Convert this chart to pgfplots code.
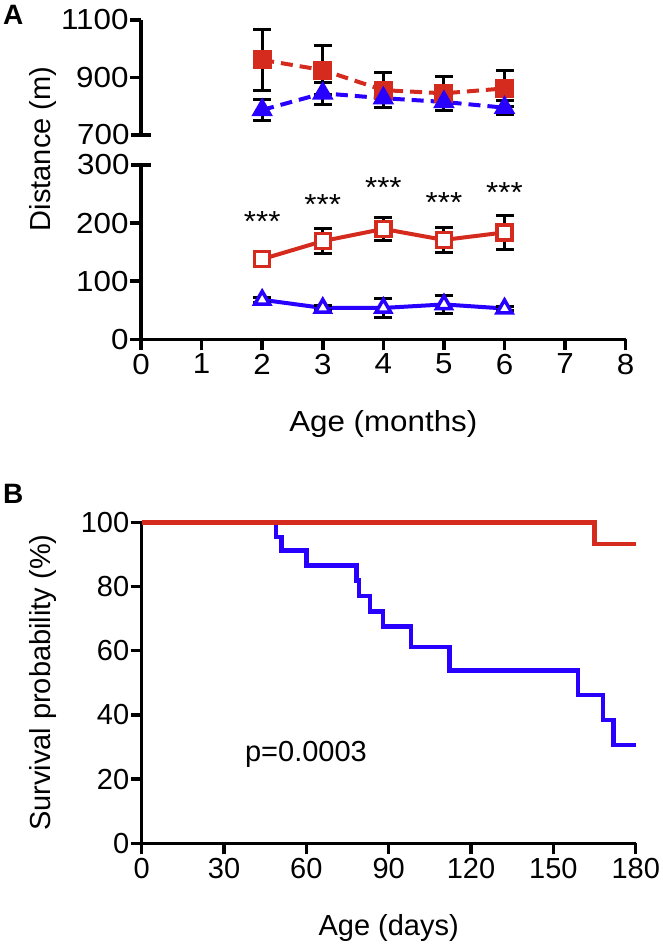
\documentclass[border=0pt]{standalone}
\usepackage{pgfplots}
\pgfplotsset{compat=1.18}
\usepackage{fontspec}
\setmainfont{Liberation Sans}
\newfontfamily\afont[FakeStretch=1.08]{Liberation Sans}
\definecolor{myred}{RGB}{213,43,30}
\definecolor{myblue}{RGB}{40,0,255}
\newcommand{\bigf}{\fontsize{29}{34}\selectfont}
\newcommand{\bigA}{\afont\fontsize{29}{34}\selectfont}
\pgfplotsset{
  gp/.style={
    scale only axis, enlargelimits=false, clip=false,
    axis line style={line width=3.5pt},
    tick style={line width=3.5pt,black},
    major tick length=11pt,
    tick align=outside,
    tick label style={font=\bigf},
    yticklabel style={xshift=2pt},
    /pgf/number format/assume math mode=true,
    /pgf/number format/set thousands separator={},
    label style={font=\bigf},
  },
  ebars/.style={error bars/.cd, y dir=both, y explicit,
    error bar style={black,line width=3pt,solid},
    error mark options={black,rotate=90,mark size=9pt,line width=3pt,solid}},
}
\begin{document}
\begin{tikzpicture}
\path[use as bounding box] (0pt,0pt) rectangle (663pt,-944pt);
% Panel A upper
\begin{axis}[gp, at={(141pt,-135pt)}, anchor=south west, width=484.7pt, height=115pt,
  xmin=0, xmax=8, ymin=700, ymax=1100, axis x line=none, axis y line*=left,
  tick label style={font=\bigA},
  ytick={900,1100}, extra y ticks={700},
  extra y tick style={tick align=center, major tick length=20pt}]
\addplot[myred, line width=4pt, dash pattern=on 12pt off 7pt, mark=square*, mark size=7.5pt,
  mark options={solid,fill=myred,draw=myred}, ebars]
  coordinates {(2,961) +- (0,106) (3,926) +- (0,84) (4,856) +- (0,62) (5,845) +- (0,60) (6,862) +- (0,64)};
\addplot[myblue, line width=4pt, dash pattern=on 12pt off 7pt, mark=triangle*, mark size=8.5pt,
  mark options={solid,fill=myblue,draw=myblue}, ebars]
  coordinates {(2,787) +- (0,37) (3,845) +- (0,38) (4,828) +- (0,32) (5,815) +- (0,30) (6,795) +- (0,25)};
\end{axis}
% Panel A lower
\begin{axis}[gp, at={(141pt,-339.3pt)}, anchor=south west, width=484.7pt, height=174.3pt,
  xmin=0, xmax=8, ymin=0, ymax=300, axis x line*=bottom, axis y line*=left,
  tick label style={font=\bigA},
  xtick={0,1,...,8}, ytick={0,100,200}, extra y ticks={300},
  extra y tick style={tick align=center, major tick length=20pt}]
\addplot[myred, line width=4pt, mark=square*, mark size=7.5pt,
  mark options={solid,fill=white,draw=myred,line width=3.5pt}, ebars]
  coordinates {(2,138) +- (0,5) (3,169) +- (0,22) (4,190) +- (0,20) (5,171) +- (0,21) (6,184) +- (0,29)};
\addplot[myblue, line width=4pt, mark=triangle*, mark size=8.5pt,
  mark options={solid,fill=white,draw=myblue,line width=3.5pt}, ebars]
  coordinates {(2,68) +- (0,4) (3,54) +- (0,4) (4,54) +- (0,17) (5,60) +- (0,15) (6,53) +- (0,4)};
\node[font=\bigA, anchor=base] at (axis cs:2,186) {***};
\node[font=\bigA, anchor=base] at (axis cs:3,214) {***};
\node[font=\bigA, anchor=base] at (axis cs:4,244) {***};
\node[font=\bigA, anchor=base] at (axis cs:5,219) {***};
\node[font=\bigA, anchor=base] at (axis cs:6,235) {***};
\end{axis}
\node[font=\bigA, anchor=base] at (383.3pt,-431.7pt) {Age (months)};
\node[font=\bigf, rotate=90, anchor=base] at (50pt,-149pt) {Distance (m)};
\node[font=\fontsize{28}{32}\selectfont\bfseries, anchor=base west, inner sep=0pt] at (3pt,-25pt) {A};
% Panel B
\begin{axis}[gp, at={(141.7pt,-843.3pt)}, anchor=south west, width=494pt, height=321pt,
  xmin=0, xmax=180, ymin=0, ymax=100, axis x line*=bottom, axis y line*=left,
  xtick={0,30,...,180}, ytick={0,20,...,100}]
\addplot[myblue, line width=4.5pt, const plot, line join=miter]
  coordinates {(0,100) (49,95.5) (51,91.2) (60,86.5) (78.3,81.8) (79.2,77.0) (83.2,72.2) (88,67.5)
  (98.1,61.2) (112.1,53.8) (158.9,46.2) (168,38.4) (171.9,30.6) (180,30.6)};
\addplot[myred, line width=4.5pt, const plot, line join=miter]
  coordinates {(0,100) (165,93.3) (180,93.3)};
\node[font=\bigf, anchor=base west, inner sep=0pt] at (axis cs:37.6,25.4) {p=0.0003};
\end{axis}
\node[font=\bigf, anchor=base] at (388.7pt,-935pt) {Age (days)};
\node[font=\bigf, rotate=90, anchor=base] at (50pt,-682.7pt) {Survival probability (\%)};
\node[font=\fontsize{28}{32}\selectfont\bfseries, anchor=base west, inner sep=0pt] at (3pt,-503pt) {B};
\end{tikzpicture}
\end{document}
